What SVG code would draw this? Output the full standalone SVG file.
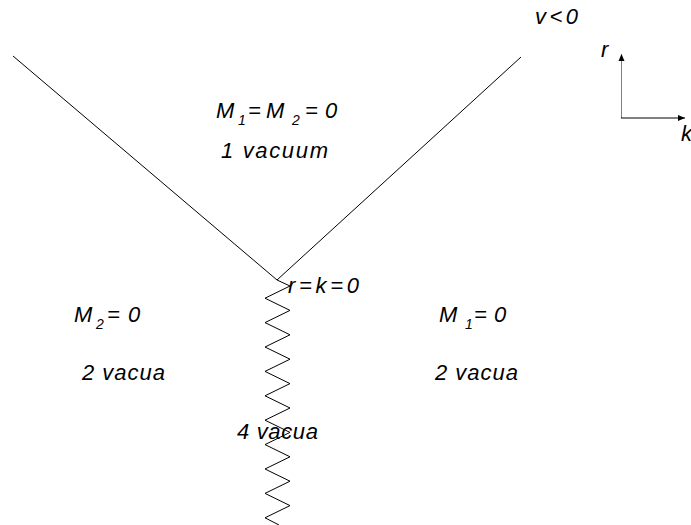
<svg xmlns="http://www.w3.org/2000/svg" width="691" height="525" viewBox="0 0 691 525">
<style>
text{font-family:"Liberation Sans",Arial,sans-serif;font-style:italic;font-size:22px;fill:#000}
.sub{font-size:14px}
.ln{fill:none;stroke:#000;stroke-width:1}
</style>
<defs>
<marker id="ah" markerWidth="8" markerHeight="8" refX="7" refY="4" orient="auto" markerUnits="userSpaceOnUse">
<path d="M0,1 L7,4 L0,7 Z" fill="#000"/>
</marker>
</defs>
<rect width="691" height="525" fill="#fff"/>
<g id="connectors">
<line class="ln" x1="13" y1="56" x2="277" y2="280"/>
<line class="ln" x1="521" y1="57" x2="277" y2="280"/>
<polyline class="ln" points="277,280 290,286 265,298.2 290,310.4 265,322.6 290,334.8 265,347 290,359.2 265,371.4 290,383.6 265,395.8 290,408 265,420.2 290,432.4 265,444.6 290,456.8 265,469 290,481.2 265,493.4 290,505.6 265,517.8 279,525"/>
</g>
<g id="axes">
<line x1="621.5" y1="118" x2="621.5" y2="54" stroke="#808080" stroke-width="1" marker-end="url(#ah)"/>
<line x1="621" y1="118" x2="685" y2="118" stroke="#000" stroke-width="1" marker-end="url(#ah)"/>
<text x="601" y="57">r</text>
<text x="681" y="141">k</text>
</g>
<g id="v-label"><text x="535" y="24" textLength="43" lengthAdjust="spacing">v&lt;0</text></g>
<g id="region-top">
<text y="118"><tspan x="216">M</tspan><tspan x="238" y="125" class="sub">1</tspan><tspan x="248" y="118">=</tspan><tspan x="266">M</tspan><tspan x="292" y="125" class="sub">2</tspan><tspan x="305" y="118">=</tspan><tspan x="325">0</tspan></text>
<text x="221" y="158" textLength="107" lengthAdjust="spacing">1 vacuum</text>
</g>
<g id="region-left">
<text y="322"><tspan x="74">M</tspan><tspan x="96" y="329" class="sub">2</tspan><tspan x="107" y="322">=</tspan><tspan x="128">0</tspan></text>
<text x="82" y="380" textLength="83" lengthAdjust="spacing">2 vacua</text>
</g>
<g id="region-right">
<text y="322"><tspan x="439">M</tspan><tspan x="465" y="329" class="sub">1</tspan><tspan x="474" y="322">=</tspan><tspan x="494">0</tspan></text>
<text x="435" y="380" textLength="83" lengthAdjust="spacing">2 vacua</text>
</g>
<g id="apex-label"><text x="288" y="293" textLength="71" lengthAdjust="spacing">r=k=0</text></g>
<g id="cut-label"><text x="237" y="439" textLength="81" lengthAdjust="spacing">4 vacua</text></g>
</svg>
